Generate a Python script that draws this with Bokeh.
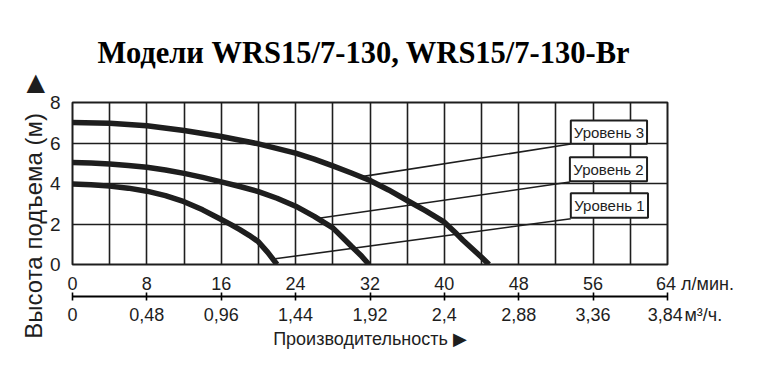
from bokeh.plotting import figure
from bokeh.models import (LinearAxis, FixedTicker, Range1d, Title)
from bokeh.core.properties import value
from bokeh.embed import file_html
from bokeh.resources import INLINE

# ---- data ----
title_text = "Модели WRS15/7-130, WRS15/7-130-Br"
y_label = "Высота подъема (м)"
x_label = "Производительность ▶"
flow_unit = "л/мин."
m3_unit = "м³/ч."
flow_ticks = [0, 8, 16, 24, 32, 40, 48, 56, 64]
m3_labels = ["0", "0,48", "0,96", "1,44", "1,92", "2,4", "2,88", "3,36", "3,84"]
head_ticks = [0, 2, 4, 6, 8]

lvl1_x = [0, 2, 4, 6, 8, 10, 12, 14, 16, 17, 18, 19, 20, 21, 22.0]
lvl1_y = [3.97, 3.94, 3.87, 3.77, 3.62, 3.4, 3.1, 2.7, 2.22, 1.98, 1.72, 1.44, 1.12, 0.6, 0]
lvl2_x = [0, 2, 4, 6, 8, 10, 12, 14, 16, 18, 20, 22, 24, 26, 28, 29, 30, 31, 31.9]
lvl2_y = [5.04, 5.01, 4.96, 4.89, 4.8, 4.67, 4.5, 4.3, 4.08, 3.85, 3.6, 3.27, 2.88, 2.38, 1.81, 1.36, 0.9, 0.46, 0]
lvl3_x = [0, 4, 8, 12, 16, 20, 24, 26, 28, 30, 32, 34, 36, 38, 40, 41, 42, 43, 44, 44.8]
lvl3_y = [7.01, 6.98, 6.85, 6.62, 6.32, 5.96, 5.5, 5.2, 4.87, 4.52, 4.15, 3.68, 3.16, 2.65, 2.09, 1.66, 1.2, 0.78, 0.36, 0]

level_names = ["Уровень 1", "Уровень 2", "Уровень 3"]
box_left = [53.6, 53.5, 53.6]
box_right = [61.9, 61.8, 61.8]
box_bottom = [2.31, 4.11, 5.96]
box_top = [3.52, 5.30, 7.11]
lead_x0 = [21.8, 26.1, 31.3]
lead_y0 = [0.28, 2.26, 4.35]
lead_x1 = [53.6, 53.5, 53.6]
lead_y1 = [2.26, 4.07, 5.95]

INK = "#1e1e1e"
SANS = "Liberation Sans"
NB = "\u00a0"

p = figure(width=757, height=369, output_backend="svg", toolbar_location=None,
           x_range=Range1d(0, 64), y_range=Range1d(0, 8),
           min_border_left=72, min_border_right=90, min_border_top=102, min_border_bottom=105,
           x_axis_location=None, y_axis_location=None)
p.background_fill_color = "white"
p.border_fill_color = "white"
p.outline_line_color = INK
p.outline_line_width = 2

p.add_layout(Title(text=title_text, align="left", offset=25, vertical_align="top",
                   text_font="Liberation Serif",
                   text_font_style="bold", text_font_size="30.5px", text_color="black",
                   standoff=62), "above")

# grid
p.xgrid.ticker = FixedTicker(ticks=list(range(0, 65, 4)))
p.ygrid.ticker = FixedTicker(ticks=head_ticks)
for g in (p.xgrid, p.ygrid):
    g.grid_line_color = INK
    g.grid_line_width = 1.6
    g.grid_line_alpha = 1

# y axis (labels only); the arrow is part of the rotated label
yax = LinearAxis(ticker=FixedTicker(ticks=head_ticks), axis_line_color=None,
                 major_tick_line_color=None, minor_tick_line_color=None,
                 major_label_text_font=SANS, major_label_text_font_size="19px",
                 major_label_text_color=INK, major_label_standoff=6,
                 axis_label=y_label + NB * 3 + "\u25b6" + NB * 7,
                 axis_label_text_font=SANS, axis_label_text_font_size="24px",
                 axis_label_text_font_style="normal", axis_label_text_color=INK,
                 axis_label_standoff=0)
p.add_layout(yax, "left")

# x axis 1: l/min (unit appended to the last label, padded to keep the number centred)
top_over = {t: str(t) for t in flow_ticks}
top_over[64] = NB * 11 + "64 " + flow_unit
xax1 = LinearAxis(ticker=FixedTicker(ticks=flow_ticks), axis_line_color=None,
                  major_tick_line_color=None, minor_tick_line_color=None,
                  major_label_overrides=top_over,
                  major_label_text_font=SANS, major_label_text_font_size="18px",
                  major_label_text_color=INK, major_label_standoff=3)
p.add_layout(xax1, "below")

# x axis 2: m3/h
bot_over = {t: s for t, s in zip(flow_ticks, m3_labels)}
bot_over[64] = NB * 7 + m3_labels[-1] + "\u200a" + m3_unit
xax2 = LinearAxis(ticker=FixedTicker(ticks=flow_ticks),
                  major_label_overrides=bot_over,
                  axis_line_color="black", axis_line_width=2.2,
                  major_tick_line_color="black", major_tick_line_width=1.6,
                  major_tick_in=4, major_tick_out=4, minor_tick_line_color=None,
                  major_label_text_font=SANS, major_label_text_font_size="18px",
                  major_label_text_color=INK, major_label_standoff=4,
                  axis_label=x_label, axis_label_text_font=SANS,
                  axis_label_text_font_size="18px", axis_label_text_font_style="normal",
                  axis_label_text_color=INK, axis_label_standoff=1)
p.add_layout(xax2, "below")

# curves
for xs, ys in ((lvl1_x, lvl1_y), (lvl2_x, lvl2_y), (lvl3_x, lvl3_y)):
    p.line(xs, ys, line_color=INK, line_width=5.5, line_cap="butt", line_join="round")

# leader lines
p.segment(x0=lead_x0, y0=lead_y0, x1=lead_x1, y1=lead_y1, line_color=INK, line_width=1.6)

# level boxes
p.quad(left=box_left, right=box_right, bottom=box_bottom, top=box_top,
       fill_color="white", line_color=INK, line_width=2)
cx = [(a + b) / 2 for a, b in zip(box_left, box_right)]
cy = [(a + b) / 2 for a, b in zip(box_bottom, box_top)]
p.text(x=cx, y=cy, text=level_names, text_align="center", text_baseline="middle",
       text_font=value(SANS), text_font_size="15px", text_color=INK)

open("out.html", "w").write(file_html(p, INLINE))
